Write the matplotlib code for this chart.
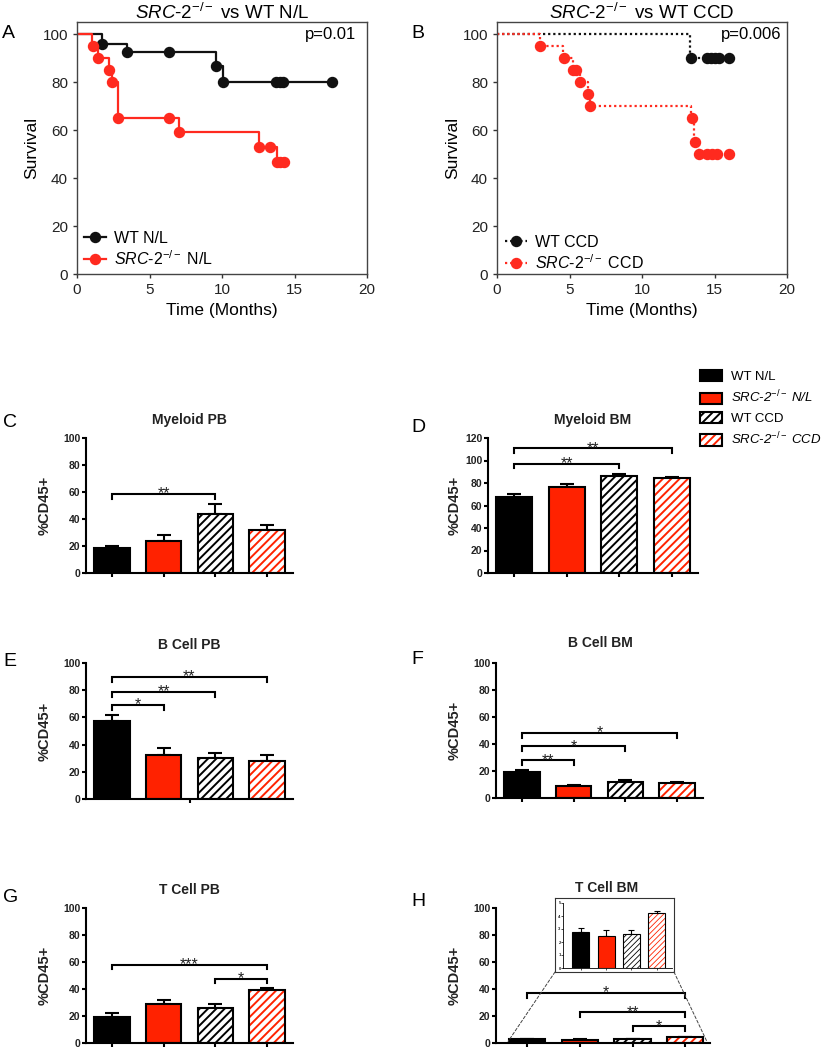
import matplotlib
matplotlib.use("Agg")
import matplotlib.pyplot as plt
from matplotlib.patches import Patch, ConnectionPatch
from matplotlib.lines import Line2D
import numpy as np


plt.rcParams["font.family"] = ["Liberation Sans", "DejaVu Sans"]
plt.rcParams["mathtext.fontset"] = "custom"
plt.rcParams["mathtext.rm"] = "Liberation Sans"
plt.rcParams["mathtext.it"] = "Liberation Sans:italic"
plt.rcParams["mathtext.bf"] = "Liberation Sans:bold"
plt.rcParams["hatch.linewidth"] = 1.4

# ---- survival data (months, % survival) ----
wt_nl_step_t = [0, 1.75, 3.45, 9.6, 10.05, 17.6]
wt_nl_step_s = [100, 96, 92.5, 86.5, 80, 80]
wt_nl_mark_t = [1.75, 3.45, 6.35, 9.6, 10.1, 13.75, 14.0, 14.2, 17.6]
wt_nl_mark_s = [96, 92.5, 92.5, 86.5, 80, 80, 80, 80, 80]

src_nl_step_t = [0, 1.05, 1.45, 2.2, 2.4, 2.8, 7.0, 12.55, 13.8, 14.3]
src_nl_step_s = [100, 95, 90, 85, 80, 65, 59, 53, 46.5, 46.5]
src_nl_mark_t = [1.1, 1.45, 2.2, 2.4, 2.8, 6.35, 7.05, 12.55, 13.3, 13.8, 14.0, 14.3]
src_nl_mark_s = [95, 90, 85, 80, 65, 65, 59, 53, 53, 46.5, 46.5, 46.5]

wt_ccd_step_t = [0, 13.3, 16.0]
wt_ccd_step_s = [100, 90, 90]
wt_ccd_mark_t = [13.4, 14.5, 14.75, 15.0, 15.3, 16.0]
wt_ccd_mark_s = [90, 90, 90, 90, 90, 90]

src_ccd_step_t = [0, 2.95, 4.55, 5.25, 5.7, 6.3, 6.38, 13.4, 13.6, 13.9, 16.0]
src_ccd_step_s = [100, 95, 90, 85, 80, 75, 70, 65, 55, 50, 50]
src_ccd_mark_t = [2.95, 4.6, 5.25, 5.45, 5.7, 6.3, 6.38, 13.45, 13.65, 13.9, 14.5, 14.8, 15.15, 16.0]
src_ccd_mark_s = [95, 90, 85, 85, 80, 75, 70, 65, 55, 50, 50, 50, 50, 50]

# ---- bar data: WT N/L, SRC-2 N/L, WT CCD, SRC-2 CCD ----
groups = ["WT N/L", "SRC-2-/- N/L", "WT CCD", "SRC-2-/- CCD"]

myeloid_pb_mean = [18.5, 24, 44, 32]
myeloid_pb_sem = [1.8, 4.4, 7.0, 3.8]
myeloid_bm_mean = [67.5, 76.5, 86, 84.3]
myeloid_bm_sem = [3.0, 2.8, 2.3, 0.6]
bcell_pb_mean = [57, 32.7, 30.5, 28]
bcell_pb_sem = [5, 5.1, 3.5, 4.4]
bcell_bm_mean = [19, 9, 11.6, 11.4]
bcell_bm_sem = [2, 1, 1.7, 0.7]
tcell_pb_mean = [19.5, 29, 26, 39.3]
tcell_pb_sem = [2.7, 2.9, 3.2, 1.4]
tcell_bm_mean = [2.8, 2.5, 2.6, 4.2]
tcell_bm_sem = [0.25, 0.4, 0.35, 0.2]

# significance brackets: (from, to, height, label)
myeloid_pb_sig = [(0, 2, 58.5, "**")]
myeloid_bm_sig = [(0, 2, 97.2, "**"), (0, 3, 110.8, "**")]
bcell_pb_sig = [(0, 1, 69.3, "*"), (0, 2, 78.6, "**"), (0, 3, 89.7, "**")]
bcell_bm_sig = [(0, 1, 27.9, "**"), (0, 2, 38.3, "*"), (0, 3, 48.1, "*")]
tcell_pb_sig = [(0, 3, 58, "***"), (2, 3, 47.7, "*")]
tcell_bm_sig = [(0, 3, 36.9, "*"), (1, 3, 22.6, "**"), (2, 3, 12.3, "*")]

RED = "#ff2a1f"
BAR_RED = "#ff2200"

W, H = 821, 1050
fig = plt.figure(figsize=(W / 100, H / 100), dpi=100)


def add_ax(left, top, right, bottom):
    return fig.add_axes([left / W, 1 - bottom / H, (right - left) / W, (bottom - top) / H])


def fig_text(x, y, s, **kw):
    kw.setdefault("ha", "center")
    kw.setdefault("va", "center")
    fig.text(x / W, 1 - y / H, s, **kw)


def survival_panel(ax, curves, ls):
    for step_t, step_s, mark_t, mark_s, color in curves:
        ax.step(step_t, step_s, where="post", color=color, lw=1.6, linestyle=ls)
        ax.plot(mark_t, mark_s, "o", color=color, ms=7.2, mec=color)
    ax.set_xlim(0, 20)
    ax.set_ylim(0, 105)
    ax.set_xticks(range(0, 21, 5))
    ax.set_yticks(range(0, 101, 20))
    ax.tick_params(direction="out", length=3, width=1, color="#333", labelsize=11, labelcolor="#222")
    for sp in ax.spines.values():
        sp.set_linewidth(1)
        sp.set_color("#444")


def bar_panel(ax, means, sems, sig, ymax, ystep, xticks=None, w=0.69, lw=1.5, hatch="////",
              capsize=5, tick_fs=7.5):
    x = np.arange(len(means))
    ax.bar(x[:2], means[:2], w, color=["black", BAR_RED], edgecolor="black", lw=lw, zorder=2)
    ax.bar(x[2], means[2], w, color="white", edgecolor="black", hatch=hatch, lw=lw, zorder=2)
    ax.bar(x[3], means[3], w, color="white", edgecolor=BAR_RED, hatch=hatch, lw=0, zorder=2)
    ax.bar(x[3], means[3], w, fill=False, edgecolor="black", lw=lw, zorder=3)
    ax.errorbar(x, means, yerr=[np.zeros(len(means)), sems], fmt="none", ecolor="black",
                elinewidth=lw, capsize=capsize, capthick=lw, zorder=1)
    tick = ymax * 0.035
    for i, j, h, lab in sig:
        ax.plot([x[i], x[i], x[j], x[j]], [h - tick, h, h, h - tick], color="black", lw=1.5,
                solid_joinstyle="miter")
        ax.annotate(lab, xy=((x[i] + x[j]) / 2, h), xytext=(0, -3.2), textcoords="offset points",
                    ha="center", va="baseline", fontsize=11.5, color="#222")
    ax.set_ylim(0, ymax)
    ax.set_xlim(-0.5, 3.5)
    ax.set_yticks(np.arange(0, ymax + 1, ystep))
    ax.set_xticks(x if xticks is None else xticks)
    ax.set_xticklabels([])
    ax.tick_params(direction="out", length=3, width=lw, labelsize=tick_fs, pad=1)
    for lab in ax.get_yticklabels():
        lab.set_fontweight("bold")
        lab.set_color("#222")
    for sp in ["top", "right"]:
        ax.spines[sp].set_visible(False)
    for sp in ["left", "bottom"]:
        ax.spines[sp].set_linewidth(lw)


# ---- A ----
axA = add_ax(77, 22, 367, 274)
survival_panel(axA, [(wt_nl_step_t, wt_nl_step_s, wt_nl_mark_t, wt_nl_mark_s, "#111111"),
                     (src_nl_step_t, src_nl_step_s, src_nl_mark_t, src_nl_mark_s, RED)], "-")
hA = [Line2D([], [], color="#111111", lw=1.6, marker="o", ms=7.2),
      Line2D([], [], color=RED, lw=1.6, marker="o", ms=7.2)]
fig.legend(hA, ["WT N/L", r"$\mathit{SRC}$-$\mathit{2}^{-/-}$ N/L"], loc="upper left",
           bbox_to_anchor=(84 / W, 1 - 231 / H), frameon=False, fontsize=11.5,
           handlelength=1.4, handletextpad=0.5, labelspacing=0.2, borderpad=0, borderaxespad=0)

# ---- B ----
axB = add_ax(497, 22, 787, 274)
survival_panel(axB, [(wt_ccd_step_t, wt_ccd_step_s, wt_ccd_mark_t, wt_ccd_mark_s, "#111111"),
                     (src_ccd_step_t, src_ccd_step_s, src_ccd_mark_t, src_ccd_mark_s, RED)],
               (0, (1, 1.3)))
hB = [Line2D([], [], color="#111111", lw=1.6, ls=(0, (1, 1.3)), marker="o", ms=7.2),
      Line2D([], [], color=RED, lw=1.6, ls=(0, (1, 1.3)), marker="o", ms=7.2)]
fig.legend(hB, ["WT CCD", r"$\mathit{SRC}$-$\mathit{2}^{-/-}$ CCD"], loc="upper left",
           bbox_to_anchor=(505 / W, 1 - 235 / H), frameon=False, fontsize=11.5,
           handlelength=1.4, handletextpad=0.5, labelspacing=0.2, borderpad=0, borderaxespad=0)

for cx, title, pval, px in [(222, r"$\mathit{SRC}$-$\mathit{2}^{-/-}$ vs WT N/L", "p=0.01", 356),
                            (642, r"$\mathit{SRC}$-$\mathit{2}^{-/-}$ vs WT CCD", "p=0.006", 781)]:
    fig_text(cx, 13, title, fontsize=13.5)
    fig_text(px, 34, pval, ha="right", fontsize=12)
    fig_text(cx, 311, "Time (Months)", fontsize=12.5)
fig_text(32, 148, "Survival", rotation=90, fontsize=12.5)
fig_text(453, 148, "Survival", rotation=90, fontsize=12.5)

# ---- bar panels ----
axC = add_ax(86, 438, 293, 573)
bar_panel(axC, myeloid_pb_mean, myeloid_pb_sem, myeloid_pb_sig, 100, 20)
axD = add_ax(488, 438, 698, 573)
bar_panel(axD, myeloid_bm_mean, myeloid_bm_sem, myeloid_bm_sig, 120, 20)
axE = add_ax(86, 663, 293, 799)
bar_panel(axE, bcell_pb_mean, bcell_pb_sem, bcell_pb_sig, 100, 20, xticks=[1.5])
axF = add_ax(496, 663, 703, 798)
bar_panel(axF, bcell_bm_mean, bcell_bm_sem, bcell_bm_sig, 100, 20)
axG = add_ax(86, 908, 293, 1043)
bar_panel(axG, tcell_pb_mean, tcell_pb_sem, tcell_pb_sig, 100, 20)
axH = add_ax(496, 908, 710, 1043)
bar_panel(axH, tcell_bm_mean, tcell_bm_sem, tcell_bm_sig, 100, 20)
axH.set_xlim(-0.59, 3.47)

titles = [(189.5, 420, "Myeloid PB"), (593, 420, "Myeloid BM"), (189.5, 645, "B Cell PB"),
          (600, 643, "B Cell BM"), (189.5, 890, "T Cell PB"), (607, 888, "T Cell BM")]
for cx, cy, t in titles:
    fig_text(cx, cy, t, fontsize=10, fontweight="bold", color="#222")
for cx, cy in [(45, 505), (455, 505), (45, 731), (455, 730), (45, 975), (455, 975)]:
    fig_text(cx, cy, "%CD45+", rotation=90, fontsize=10.5, fontweight="bold", color="#222")

# inset of T cell BM
frame = add_ax(555, 898, 674, 972)
frame.set_xticks([])
frame.set_yticks([])
for sp in frame.spines.values():
    sp.set_linewidth(0.8)
    sp.set_color("#333")
inset = add_ax(563, 903, 672, 968)
inset.patch.set_visible(False)
with plt.rc_context({"hatch.linewidth": 0.6}):
    bar_panel(inset, tcell_bm_mean, tcell_bm_sem, [], 5, 1, w=0.67, lw=0.8, hatch="//////",
              capsize=2.5, tick_fs=3)
inset.set_xlim(-0.7, 3.6)
inset.tick_params(length=1.2, width=0.5, pad=0.5)
for sp in ["left", "bottom"]:
    inset.spines[sp].set_linewidth(0.6)

for xa, xb in [(0, -0.36), (1, 3.41)]:
    con = ConnectionPatch(xyA=(xa, 0), coordsA=frame.transAxes, xyB=(xb, 1.2), coordsB=axH.transData,
                          linestyle=(0, (3, 2)), color="#444", lw=0.7)
    fig.add_artist(con)

# legend for bars
leg_handles = [Patch(facecolor="black", edgecolor="black", lw=1.5),
               Patch(facecolor=BAR_RED, edgecolor="black", lw=1.5),
               Patch(facecolor="white", edgecolor="black", hatch="////", lw=1.5),
               (Patch(facecolor="white", edgecolor=BAR_RED, hatch="////", lw=0),
                Patch(fill=False, edgecolor="black", lw=1.5))]
leg_labels = ["WT N/L", r"SRC-2$^{-/-}$ N/L", "WT CCD", r"SRC-2$^{-/-}$ CCD"]
leg = fig.legend(leg_handles, leg_labels, loc="upper left", bbox_to_anchor=(700 / W, 1 - 370 / H),
                 frameon=False, fontsize=9.5, handlelength=1.7, handleheight=0.95,
                 handletextpad=0.65, labelspacing=0.45, borderpad=0, borderaxespad=0)
for t in leg.get_texts()[1::2]:
    t.set_style("italic")

# panel letters
for x, y, s in [(2, 33, "A"), (411, 33, "B"), (3, 423, "C"), (411, 427, "D"), (3, 662, "E"),
                (411, 660, "F"), (3, 898, "G"), (411, 902, "H")]:
    fig_text(x, y, s, ha="left", fontsize=14)

fig.savefig("out.png", dpi=100)
